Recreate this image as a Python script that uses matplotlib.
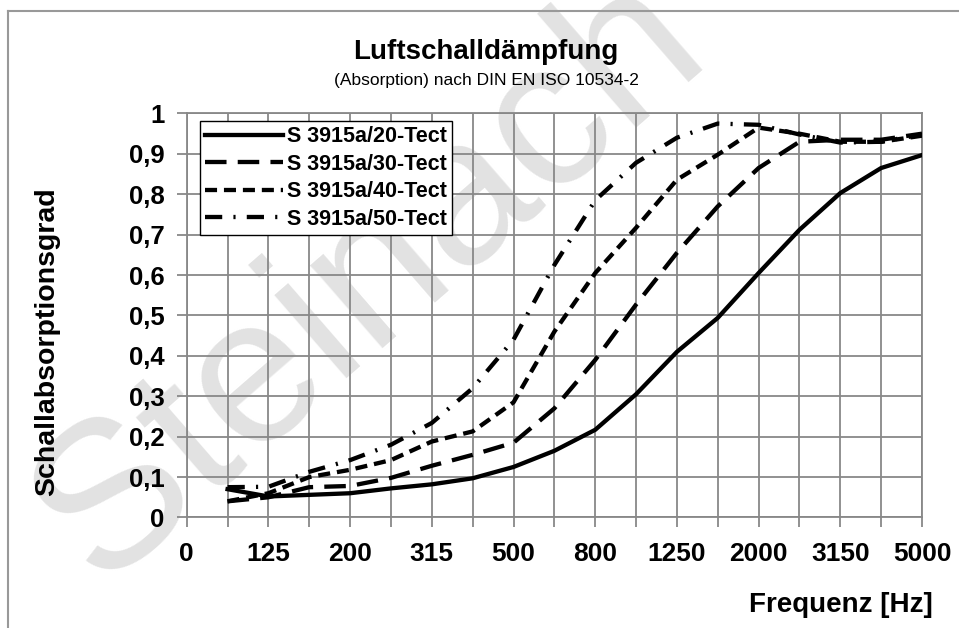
import numpy as np
import matplotlib
matplotlib.use('Agg')
import matplotlib.pyplot as plt
from matplotlib.lines import Line2D

plt.rcParams['font.family'] = ['Liberation Sans', 'DejaVu Sans']

# third-octave bands (categorical x axis, first slot is the empty "0" slot)
freq_labels = ['0', '100', '125', '160', '200', '250', '315', '400', '500', '630',
               '800', '1000', '1250', '1600', '2000', '2500', '3150', '4000', '5000']
freqs = [100, 125, 160, 200, 250, 315, 400, 500, 630, 800, 1000, 1250, 1600, 2000, 2500, 3150, 4000, 5000]

# absorption coefficients
s20 = [0.070, 0.052, 0.056, 0.060, 0.072, 0.082, 0.097, 0.125, 0.165, 0.217, 0.305, 0.410,
       0.494, 0.605, 0.712, 0.803, 0.865, 0.897]
s30 = [0.040, 0.050, 0.075, 0.078, 0.098, 0.128, 0.155, 0.185, 0.270, 0.390, 0.527, 0.655,
       0.770, 0.865, 0.930, 0.935, 0.935, 0.950]
s40 = [0.040, 0.060, 0.100, 0.118, 0.142, 0.188, 0.213, 0.285, 0.460, 0.605, 0.717, 0.836,
       0.898, 0.965, 0.950, 0.930, 0.930, 0.945]
s50 = [0.075, 0.076, 0.113, 0.142, 0.180, 0.234, 0.320, 0.440, 0.625, 0.785, 0.878, 0.940,
       0.975, 0.972, 0.948, 0.928, 0.930, 0.948]
series_names = ['S 3915a/20-Tect', 'S 3915a/30-Tect', 'S 3915a/40-Tect', 'S 3915a/50-Tect']

y_ticks = [0, 0.1, 0.2, 0.3, 0.4, 0.5, 0.6, 0.7, 0.8, 0.9, 1.0]
y_labels = ['0', '0,1', '0,2', '0,3', '0,4', '0,5', '0,6', '0,7', '0,8', '0,9', '1']

fig = plt.figure(figsize=(9.59, 6.28), dpi=100)
ax = fig.add_axes([0.1947, 0.176, 0.7667, 0.6433])

# positions of the bands on the category axis
x = [freq_labels.index(str(f)) for f in freqs]

styles = [
    dict(linestyle='-'),
    dict(linestyle=(0, (5, 2.6))),
    dict(linestyle=(0, (2.8, 1.6))),
    dict(linestyle=(0, (4, 2.6, 0.5, 2.6))),
]
for vals, name, st in zip([s20, s30, s40, s50], series_names, styles):
    ax.plot(x, vals, color='black', lw=3.1, label=name, zorder=3, **st)

ax.set_xlim(0, len(freq_labels) - 1)
ax.set_ylim(0, 1)
ax.set_xticks(range(len(freq_labels)))
ax.set_xticklabels([lab if i % 2 == 0 else '' for i, lab in enumerate(freq_labels)],
                   fontsize=19, fontweight='bold')
ax.set_yticks(y_ticks)
ax.set_yticklabels(y_labels, fontsize=18.5, fontweight='bold')
ax.tick_params(axis='both', direction='out', length=7, width=1.3, color='#888888')
ax.tick_params(axis='x', pad=11)
ax.tick_params(axis='y', pad=9)

ax.grid(True, color='#888888', lw=1.3)
ax.set_axisbelow(True)
for sp in ax.spines.values():
    sp.set_color('#888888')
    sp.set_linewidth(1.3)

ax.set_ylabel('Schallabsorptionsgrad', fontsize=20.5, fontweight='bold')
ax.yaxis.set_label_coords(-0.172, 0.435)
fig.text(933 / 959, 1 - 605 / 628, 'Frequenz [Hz]', fontsize=20, fontweight='bold',
         ha='right', va='center')

fig.text(486 / 959, 1 - 52 / 628, 'Luftschalldämpfung', fontsize=20, fontweight='bold',
         ha='center', va='center')
fig.text(486 / 959, 1 - 80 / 628, '(Absorption) nach DIN EN ISO 10534-2',
         fontsize=12.5, ha='center', va='center')

leg = ax.legend(loc='upper left', bbox_to_anchor=(0.018, 0.982), borderaxespad=0,
                prop={'size': 15.5, 'weight': 'bold'}, handlelength=3.6, handletextpad=0.2,
                labelspacing=0.3, borderpad=0.25, fancybox=False, framealpha=1,
                edgecolor='black')
leg.get_frame().set_linewidth(1.0)
leg.set_zorder(5)

# watermark
ax.text(370 / 959, 1 - 280 / 628, 'Steinach', transform=fig.transFigure, fontsize=150,
        color='#e2e2e2', rotation=41, ha='center', va='center', zorder=0.4, clip_on=False)

# outer frame of the chart area
fig.add_artist(Line2D([8 / 959, 8 / 959], [0, 1 - 11 / 628], transform=fig.transFigure,
                      color='#999999', lw=1.5))
fig.add_artist(Line2D([8 / 959, 1], [1 - 11 / 628, 1 - 11 / 628], transform=fig.transFigure,
                      color='#999999', lw=1.5))

fig.savefig('out.png', dpi=100)
